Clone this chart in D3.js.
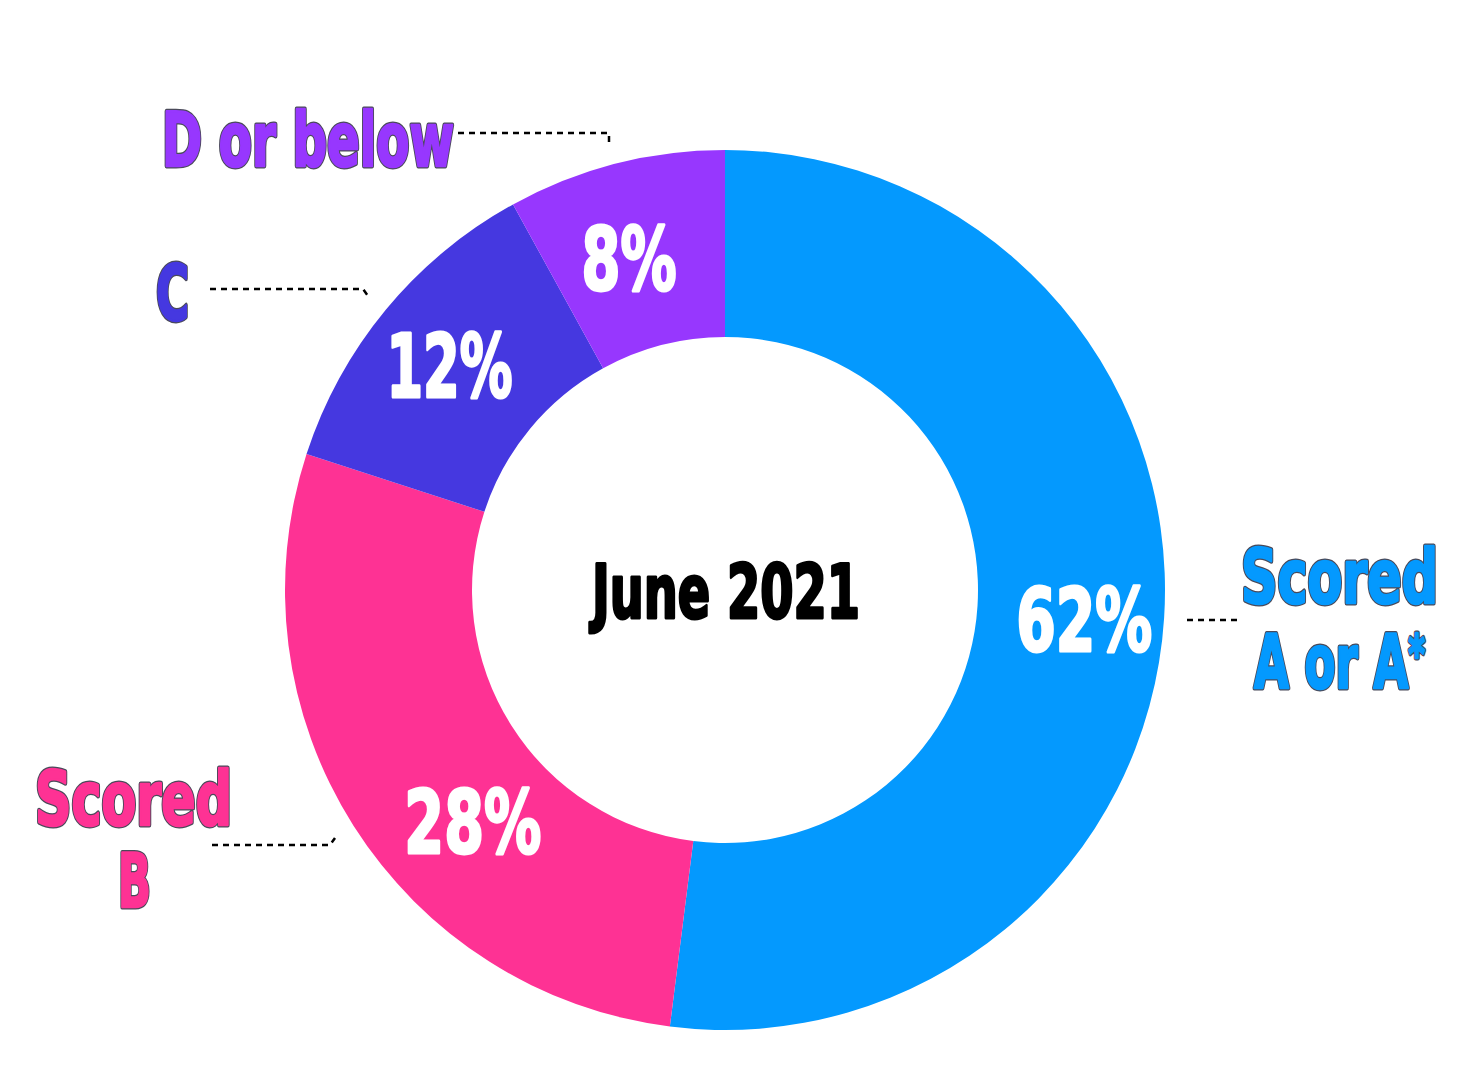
<!DOCTYPE html>
<html>
<head>
<meta charset="utf-8">
<script src="https://cdn.jsdelivr.net/npm/d3@7"></script>
<style>
  html, body { margin: 0; padding: 0; background: #fff; }
  svg { display: block; }
</style>
</head>
<body>
<svg id="chart" width="1469" height="1080"></svg>
<script>
// ---- data ----
const categories = ["Scored A or A*", "Scored B", "C", "D or below"];
const sliceValues = [52, 28, 12, 8];               // slice sizes as drawn (angles)
const percentLabels = ["62%", "28%", "12%", "8%"]; // text printed on slices
const sliceColors = ["#0499FE", "#FE3294", "#4538E0", "#9737FE"];
const centerTitle = "June 2021";
const categoryLines = [["Scored", "A or A*"], ["Scored", "B"], ["C"], ["D or below"]];

// ---- layout ----
const cx = 725, cy = 590, R = 440, r = 253;
const FONT = "'DejaVu Sans Condensed', 'DejaVu Sans', sans-serif";

const svg = d3.select("#chart");
const g = svg.append("g").attr("transform", `translate(${cx},${cy})`);

const pie = d3.pie().sort(null).value(d => d).startAngle(0).endAngle(2 * Math.PI);
const arcs = pie(sliceValues);
const arc = d3.arc().innerRadius(r).outerRadius(R);

g.selectAll("path.slice")
  .data(arcs)
  .join("path")
  .attr("class", "slice")
  .attr("d", arc)
  .attr("fill", (d, i) => sliceColors[i]);

// write text (with optional superscript '*'), then squeeze horizontally to a width
function addText(sel, str, size) {
  const t = sel.append("text")
    .attr("x", 0).attr("y", 0)
    .attr("font-family", FONT).attr("font-weight", 700)
    .attr("font-size", size);
  if (str.endsWith("*")) {
    t.append("tspan").text(str.slice(0, -1));
    t.append("tspan").attr("font-size", size * 0.7).attr("dy", -size * 0.2).text("*");
  } else {
    t.text(str);
  }
  return t;
}
function fitText(parent, str, x, y, width, size, fill, outline) {
  const grp = parent.append("g");
  if (outline) {
    addText(grp, str, size)
      .attr("fill", outline).attr("stroke", outline)
      .attr("stroke-width", 5).attr("stroke-linejoin", "round");
  }
  const front = addText(grp, str, size)
    .attr("fill", fill).attr("stroke", fill)
    .attr("stroke-width", outline ? 2.5 : 3).attr("stroke-linejoin", "round");
  const natural = front.node().getComputedTextLength();
  grp.attr("transform", `translate(${x},${y}) scale(${width / natural},1)`);
}

// percent labels on slices (centroid + small nudges)
const labelArc = d3.arc().innerRadius(346).outerRadius(346);
const pctNudge = [[14, 7], [40, 46], [-9, -4], [-10, 3]];
const pctWidth = [136, 137, 126, 95];
arcs.forEach((a, i) => {
  const [x, y] = labelArc.centroid(a);
  const tx = x + pctNudge[i][0], ty = y + pctNudge[i][1];
  fitText(g, percentLabels[i], tx - pctWidth[i] / 2, ty + 32, pctWidth[i], 88, "#fff", null);
});

// center title
fitText(svg, centerTitle, 592, 618, 268, 74, "#000", null);

// outer category labels
const outline = "#4a4a5a";
fitText(svg, categoryLines[3][0], 162, 166, 292, 75, sliceColors[3], outline);
fitText(svg, categoryLines[2][0], 156, 320, 33, 76, sliceColors[2], outline);
fitText(svg, categoryLines[1][0], 35, 825, 197, 75, sliceColors[1], outline);
fitText(svg, categoryLines[1][1], 118, 907, 33, 75, sliceColors[1], outline);
fitText(svg, categoryLines[0][0], 1241, 603, 197, 75, sliceColors[0], outline);
fitText(svg, categoryLines[0][1], 1254, 688, 171, 75, sliceColors[0], outline);

// dotted leader lines
const leaders = [
  [[1187, 620], [1240, 620]],
  [[212, 845], [330, 845], [335, 838]],
  [[210, 289], [363, 289], [368, 296]],
  [[458, 133], [609, 133], [609, 143]]
];
svg.selectAll("path.leader")
  .data(leaders)
  .join("path")
  .attr("class", "leader")
  .attr("d", d3.line())
  .attr("fill", "none")
  .attr("stroke", "#000")
  .attr("stroke-width", 2.5)
  .attr("stroke-dasharray", "6,5");
</script>
</body>
</html>
